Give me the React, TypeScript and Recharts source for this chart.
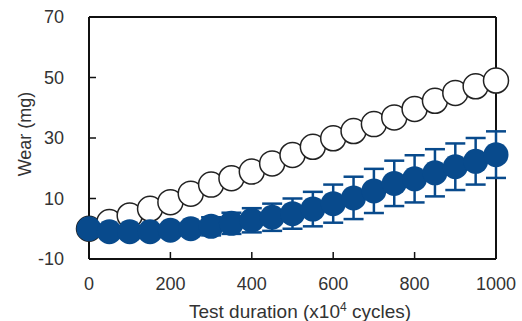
import React from 'react';
import { ScatterChart, Scatter, XAxis, YAxis, ErrorBar, ReferenceLine } from 'recharts';

// test duration (x10^4 cycles)
const durations = [0, 50, 100, 150, 200, 250, 300, 350, 400, 450, 500, 550, 600, 650, 700, 750, 800, 850, 900, 950, 1000];
// open circles
const openWear = [0, 2.2, 4.4, 6.6, 8.8, 11.6, 14.6, 16.7, 18.9, 21.6, 24.4, 27.1, 29.9, 32.3, 34.6, 36.8, 39.6, 42.3, 44.9, 47.1, 49];
// filled circles
const filledWear = [0, -1, -1, -1, -0.5, 0, 0.8, 1.8, 2.8, 3.8, 5, 6.5, 8.3, 10.2, 12.5, 15, 16.5, 18.5, 20.5, 22.3, 24.5];
const filledErr = [1, 1, 1, 1, 1.5, 2, 3, 3.5, 4, 4.5, 5, 5.7, 6.3, 7, 7.3, 7.5, 7.8, 7.8, 7.7, 7.7, 7.7];

const xTicks = [0, 200, 400, 600, 800, 1000];
const yTicks = [-10, 10, 30, 50, 70];

const BLUE = '#084a8c';
const INK = '#111';
const FONT = '"Liberation Sans", Arial, sans-serif';

const openData = durations.map((x, i) => ({ x, y: openWear[i] }));
const filledData = durations.map((x, i) => ({ x, y: filledWear[i], err: filledErr[i] }));

const OpenDot = (props: any) => (
    <circle cx={props.cx} cy={props.cy} r={12.5} fill="#fff" stroke="#222" strokeWidth={1.5} />
);

const FilledDot = (props: any) => (
    <circle cx={props.cx} cy={props.cy} r={12.5} fill={BLUE} />
);

const XTitle = () => (
    <text x={300} y={318} textAnchor="middle" fontSize={19} fill="#333" fontFamily={FONT}>
        Test duration (x10<tspan dy={-7} fontSize={12}>4</tspan>
        <tspan dy={7}> cycles)</tspan>
    </text>
);

const YTitle = () => (
    <text x={31} y={134} transform="rotate(-90 31 134)" textAnchor="middle" fontSize={18} fill="#333" fontFamily={FONT}>
        Wear (mg)
    </text>
);

const tickStyle = { fontSize: 18, fill: '#333', fontFamily: FONT };

export default function App() {
    return (
        <div style={{ position: 'absolute', left: 0, top: 0, background: '#fff' }}>
            <ScatterChart width={522} height={321} margin={{ top: 17, right: 26, bottom: 0, left: 0 }}>
                <XAxis
                    type="number"
                    dataKey="x"
                    domain={[0, 1000]}
                    ticks={xTicks}
                    interval={0}
                    height={62}
                    tickSize={-7}
                    tickMargin={25}
                    tick={tickStyle}
                    axisLine={{ stroke: INK, strokeWidth: 2 }}
                    tickLine={{ stroke: INK, strokeWidth: 1.5 }}
                    label={<XTitle />}
                />
                <YAxis
                    type="number"
                    dataKey="y"
                    domain={[-10, 70]}
                    ticks={yTicks}
                    interval={0}
                    width={89}
                    tickSize={-7}
                    tickMargin={32}
                    tick={tickStyle}
                    axisLine={{ stroke: INK, strokeWidth: 2 }}
                    tickLine={{ stroke: INK, strokeWidth: 1.5 }}
                    label={<YTitle />}
                />
                <ReferenceLine y={70} stroke={INK} strokeWidth={2} />
                <ReferenceLine x={1000} stroke={INK} strokeWidth={2} />
                <Scatter data={openData} shape={OpenDot} isAnimationActive={false} />
                <Scatter data={filledData} shape={FilledDot} isAnimationActive={false}>
                    <ErrorBar dataKey="err" direction="y" width={10} stroke={BLUE} strokeWidth={2.5} />
                </Scatter>
            </ScatterChart>
        </div>
    );
}
